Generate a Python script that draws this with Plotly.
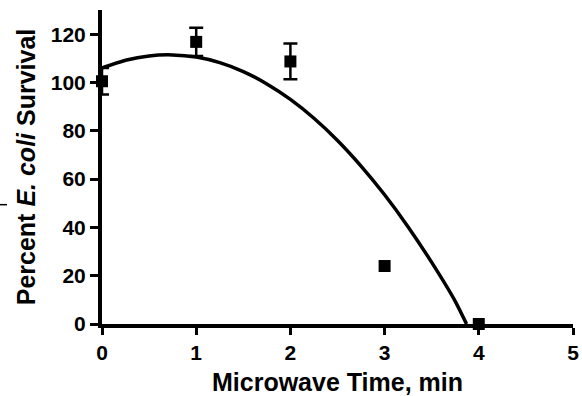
import plotly.graph_objects as go

# Measured data points (mean ± error); None = no error bar shown
time_min = [0, 1, 2, 3, 4]
survival = [100.5, 116.8, 108.7, 24, 0]
survival_err = [5.5, 5.8, 7.4, None, None]

# Fitted curve
curve_x = [0, 0.25, 0.5, 0.75, 1.0, 1.25, 1.5, 1.75, 2.0, 2.25, 2.5, 2.75, 3.0, 3.25, 3.5, 3.75, 3.87]
curve_y = [106, 109.2, 111, 111.4, 110.5, 108.2, 104.5, 99.4, 93, 85.2, 76, 65.4, 53.5, 40.2, 25.5, 9.4, 0]

x_ticks = [0, 1, 2, 3, 4, 5]
y_ticks = [0, 20, 40, 60, 80, 100, 120]

FONT = "Liberation Sans, Arial, Helvetica, sans-serif"

with_err = [i for i, e in enumerate(survival_err) if e is not None]
no_err = [i for i, e in enumerate(survival_err) if e is None]

fig = go.Figure()
fig.add_trace(go.Scatter(
    x=curve_x, y=curve_y, mode="lines",
    line=dict(color="black", width=3.5, shape="spline", smoothing=0.6),
    cliponaxis=False, showlegend=False, hoverinfo="skip",
))
fig.add_trace(go.Scatter(
    x=[time_min[i] for i in with_err], y=[survival[i] for i in with_err], mode="markers",
    marker=dict(symbol="square", size=12, color="black"),
    error_y=dict(type="data", array=[survival_err[i] for i in with_err], visible=True,
                 color="black", thickness=2.5, width=7),
    cliponaxis=False, showlegend=False,
))
fig.add_trace(go.Scatter(
    x=[time_min[i] for i in no_err], y=[survival[i] for i in no_err], mode="markers",
    marker=dict(symbol="square", size=12, color="black"),
    cliponaxis=False, showlegend=False,
))

fig.update_layout(
    width=582, height=396,
    margin=dict(l=102, r=9, t=10, b=72),
    paper_bgcolor="white", plot_bgcolor="white",
    font=dict(family=FONT, color="black"),
    xaxis=dict(
        range=[0, 5], tickvals=x_ticks, ticktext=[f"<b>{v}</b>" for v in x_ticks],
        showline=True, linecolor="black", linewidth=4,
        ticks="outside", ticklen=7, tickwidth=3, tickcolor="black",
        showgrid=False, zeroline=False, automargin=False,
        tickfont=dict(size=21, family=FONT, color="black"),
        title=dict(text="<b>Microwave Time, min</b>", font=dict(size=25, family=FONT), standoff=15),
    ),
    yaxis=dict(
        range=[0, 130], tickvals=y_ticks, ticktext=[f"<b>{v}</b>" for v in y_ticks],
        showline=True, linecolor="black", linewidth=4,
        ticks="outside", ticklen=8, tickwidth=3, tickcolor="black",
        showgrid=False, zeroline=False, automargin=False,
        tickfont=dict(size=21, family=FONT, color="black"),
        title=dict(text="<b>Percent <i>E. coli</i> Survival</b>", font=dict(size=25, family=FONT), standoff=9),
    ),
    shapes=[dict(type="line", xref="paper", yref="y", x0=-0.2166, x1=-0.2017,
                 y0=49.4, y1=49.4, line=dict(color="black", width=1.5))],
)

fig.write_html("out.html", config={"displayModeBar": False},
               post_script="document.body.style.margin='0';document.body.style.padding='0';")
